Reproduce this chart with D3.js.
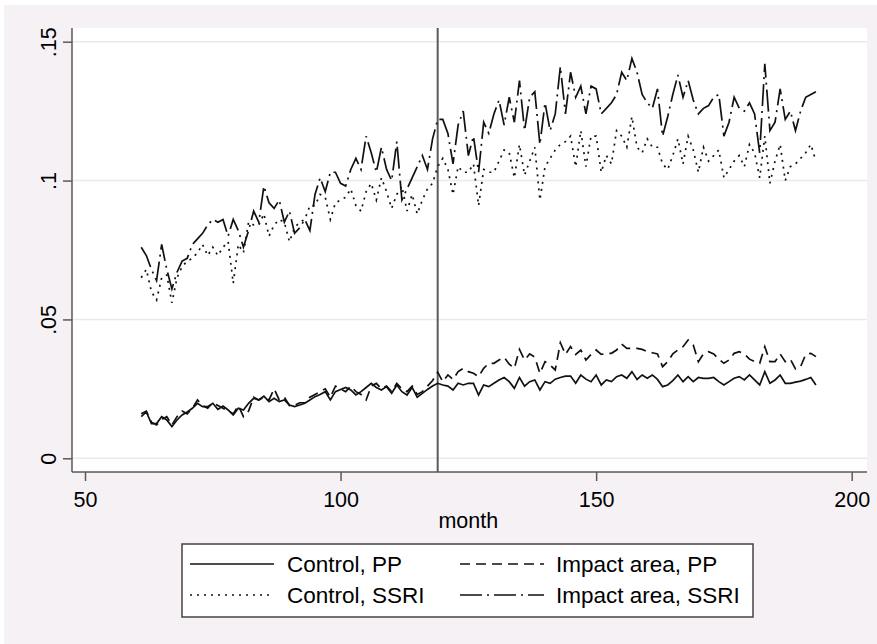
<!DOCTYPE html>
<html>
<head>
<meta charset="utf-8">
<script src="https://cdn.jsdelivr.net/npm/d3@7"></script>
<style>
  html, body { margin: 0; padding: 0; background: #fff; }
  svg { display: block; font-family: "Liberation Sans", Arial, sans-serif; }
</style>
</head>
<body>
<div id="chart"></div>
<script>
// months 61..193, one value per month
const months = d3.range(61, 194);
const yTicks = [0, 0.05, 0.1, 0.15];
const yTickLabels = ['0', '.05', '.1', '.15'];
const xTicks = [50, 100, 150, 200];
const cutMonth = 119;

const controlPP = [
  .015, .0167, .0125, .0125, .015, .0138, .0114, .0138, .0156, .0167,
  .018, .0198, .0186, .0186, .0198, .0176, .0188, .0174, .0156, .018,
  .0174, .0198, .0216, .021, .0224, .0204, .0216, .0204, .021, .0192,
  .0186, .0192, .0198, .021, .0222, .023, .024, .021, .024, .0248,
  .0255, .0246, .0228, .024, .0255, .027, .0255, .0246, .0258, .0234,
  .0264, .024, .0228, .0255, .022, .0234, .0248, .026, .027,
  .0264, .026, .0246, .027, .0264, .027, .027, .0228, .0264, .0258,
  .027, .0282, .0291, .0276, .0252, .0291, .026, .0276, .0282, .0246,
  .0276, .027, .0285, .0291, .0296, .0296, .027, .03, .0285, .0276,
  .03, .0264, .0282, .0276, .0294, .03, .0288, .0312, .0284, .03,
  .0288, .03, .0284, .0258, .0264, .028, .03, .0276, .0294, .0276,
  .0291, .0288, .0288, .0291, .0276, .0264, .0276, .0288, .0294, .0282,
  .03, .0282, .0264, .0312, .027, .0282, .03, .027, .027, .0274,
  .0278, .0284, .0291, .0264
];

const impactPP = [
  .016, .017, .013, .012, .014, .015, .012, .015, .017, .016,
  .018, .021, .019, .018, .020, .019, .018, .017, .016, .019,
  .015, .017, .022, .021, .022, .021, .025, .021, .022, .019,
  .019, .020, .020, .022, .023, .024, .025, .022, .026, .025,
  .024, .026, .024, .023, .021, .026, .027, .025, .026, .024,
  .027, .025, .024, .026, .023, .024, .026, .028, .031,
  .0276, .03, .0284, .0312, .0324, .0312, .0306, .0294, .0324, .0342,
  .0342, .0354, .0364, .0339, .0324, .0392, .0354, .0376, .0364, .0306,
  .0348, .0336, .0318, .0416, .0374, .0402, .0374, .039, .0354, .0374,
  .039, .0374, .0378, .0378, .039, .0411, .0396, .0396, .0396, .0392,
  .0384, .038, .0376, .033, .0348, .0376, .039, .0402, .0426, .0408,
  .0348, .0376, .0384, .0376, .0357, .0342, .0354, .0378, .0384, .0376,
  .0357, .0348, .0342, .0402, .0348, .0348, .0376, .0348, .0357, .0322,
  .033, .0374, .0378, .0366
];

const controlSSRI = [
  .065, .068, .060, .057, .065, .066, .056, .065, .069, .071,
  .072, .074, .077, .073, .076, .073, .076, .078, .063, .077,
  .074, .085, .084, .084, .088, .080, .084, .086, .085, .078,
  .083, .085, .086, .091, .091, .095, .094, .086, .092, .093,
  .094, .097, .091, .089, .096, .099, .093, .101, .096, .090,
  .095, .098, .089, .095, .088, .093, .097, .099, .105,
  .108, .104, .095, .105, .103, .103, .106, .091, .104, .103,
  .103, .107, .111, .110, .101, .113, .102, .107, .112, .093,
  .105, .108, .111, .113, .114, .116, .105, .118, .105, .116,
  .116, .103, .109, .106, .118, .116, .112, .123, .112, .110,
  .115, .112, .112, .106, .104, .109, .115, .106, .116, .111,
  .103, .112, .107, .109, .111, .101, .104, .107, .109, .105,
  .113, .110, .101, .116, .099, .107, .113, .100, .105, .106,
  .108, .110, .113, .107
];

const impactSSRI = [
  .076, .073, .068, .064, .077, .068, .061, .067, .071, .072,
  .077, .079, .081, .084, .086, .085, .086, .080, .086, .082,
  .076, .082, .089, .085, .098, .092, .090, .093, .085, .089,
  .081, .083, .086, .082, .095, .101, .096, .103, .103, .099,
  .098, .104, .108, .104, .116, .110, .103, .112, .104, .100,
  .114, .093, .097, .101, .105, .109, .104, .115, .122,
  .122, .117, .106, .120, .125, .109, .116, .103, .121, .117,
  .124, .129, .120, .130, .121, .136, .118, .130, .132, .113,
  .128, .118, .124, .141, .124, .139, .130, .134, .124, .134,
  .133, .124, .126, .128, .131, .139, .136, .144, .139, .131,
  .128, .126, .133, .116, .123, .131, .138, .130, .136, .129,
  .124, .126, .127, .130, .131, .116, .121, .130, .126, .125,
  .128, .124, .110, .142, .118, .121, .133, .122, .125, .118,
  .125, .130, .131, .132
];

const seriesNames = ['Control, PP', 'Impact area, PP', 'Control, SSRI', 'Impact area, SSRI'];
const seriesValues = [controlPP, impactPP, controlSSRI, impactSSRI];
const seriesDash = [null, '10,6', '2,5', '22,5,2,5'];

const width = 877, height = 644;
const plot = { left: 72, right: 867, top: 28, bottom: 472 };
const fontFamily = '"Liberation Sans", Arial, sans-serif';

const svg = d3.select('#chart').append('svg')
  .attr('width', width)
  .attr('height', height);

// outer background
svg.append('rect')
  .attr('x', 4).attr('y', 5)
  .attr('width', width - 4).attr('height', height - 5)
  .attr('fill', '#f5f1f5');

svg.append('rect')
  .attr('x', plot.left).attr('y', plot.top)
  .attr('width', plot.right - plot.left).attr('height', plot.bottom - plot.top)
  .attr('fill', '#fff');

const x = d3.scaleLinear().domain([50, 200]).range([85, 851.7]);
const y = d3.scaleLinear().domain([0, 0.15]).range([458.3, 41.7]);

// gridlines
svg.append('g')
  .selectAll('line')
  .data(yTicks)
  .join('line')
  .attr('x1', plot.left).attr('x2', plot.right)
  .attr('y1', d => y(d)).attr('y2', d => y(d))
  .attr('stroke', '#eaeaea')
  .attr('stroke-width', 1.5);

// y axis
const yAxis = svg.append('g')
  .attr('transform', `translate(${plot.left},0)`)
  .call(d3.axisLeft(y).tickValues(yTicks).tickSize(9).tickFormat((d, i) => yTickLabels[i]));
yAxis.select('.domain').attr('d', `M0,${plot.top}V${plot.bottom}`);
yAxis.selectAll('.domain, .tick line').attr('stroke', '#5a5a5a').attr('stroke-width', 1.5);
yAxis.selectAll('.tick text')
  .attr('font-size', 21.5)
  .attr('font-family', fontFamily)
  .attr('fill', '#000')
  .attr('text-anchor', 'middle')
  .attr('dy', null)
  .attr('x', null)
  .attr('transform', 'translate(-16.5,0) rotate(-90)');

// x axis
const xAxis = svg.append('g')
  .attr('transform', `translate(0,${plot.bottom})`)
  .call(d3.axisBottom(x).tickValues(xTicks).tickSize(9).tickFormat(d3.format('d')));
xAxis.select('.domain').attr('d', `M${plot.left},0H${plot.right}`);
xAxis.selectAll('.domain, .tick line').attr('stroke', '#5a5a5a').attr('stroke-width', 1.5);
xAxis.selectAll('.tick text')
  .attr('font-size', 21.5)
  .attr('font-family', fontFamily)
  .attr('fill', '#000')
  .attr('y', 35)
  .attr('dy', null);

svg.append('text')
  .attr('x', (x(50) + x(200)) / 2)
  .attr('y', 528)
  .attr('text-anchor', 'middle')
  .attr('font-size', 21.5)
  .text('month');

// vertical line at cut month
svg.append('line')
  .attr('x1', x(cutMonth)).attr('x2', x(cutMonth))
  .attr('y1', plot.top).attr('y2', plot.bottom)
  .attr('stroke', '#5a5a5a')
  .attr('stroke-width', 2);

// series
const line = d3.line()
  .x((d, i) => x(months[i]))
  .y(d => y(d));

seriesValues.forEach((vals, k) => {
  svg.append('path')
    .datum(vals)
    .attr('d', line)
    .attr('fill', 'none')
    .attr('stroke', '#111')
    .attr('stroke-width', 1.7)
    .attr('stroke-dasharray', seriesDash[k]);
});

// legend
const lg = svg.append('g');
lg.append('rect')
  .attr('x', 182).attr('y', 544)
  .attr('width', 571).attr('height', 73)
  .attr('fill', '#fff')
  .attr('stroke', '#444')
  .attr('stroke-width', 1.5);

const legendPos = [
  { lx: 190, tx: 287, cy: 564 },
  { lx: 460, tx: 556, cy: 564 },
  { lx: 190, tx: 287, cy: 595 },
  { lx: 460, tx: 556, cy: 595 }
];

seriesNames.forEach((name, k) => {
  const p = legendPos[k];
  lg.append('line')
    .attr('x1', p.lx).attr('x2', p.lx + 84)
    .attr('y1', p.cy).attr('y2', p.cy)
    .attr('stroke', '#111')
    .attr('stroke-width', 1.7)
    .attr('stroke-dasharray', seriesDash[k]);
  lg.append('text')
    .attr('x', p.tx).attr('y', p.cy)
    .attr('dy', '0.35em')
    .attr('font-size', 22.5)
    .attr('fill', '#000')
    .text(name);
});
</script>
</body>
</html>
